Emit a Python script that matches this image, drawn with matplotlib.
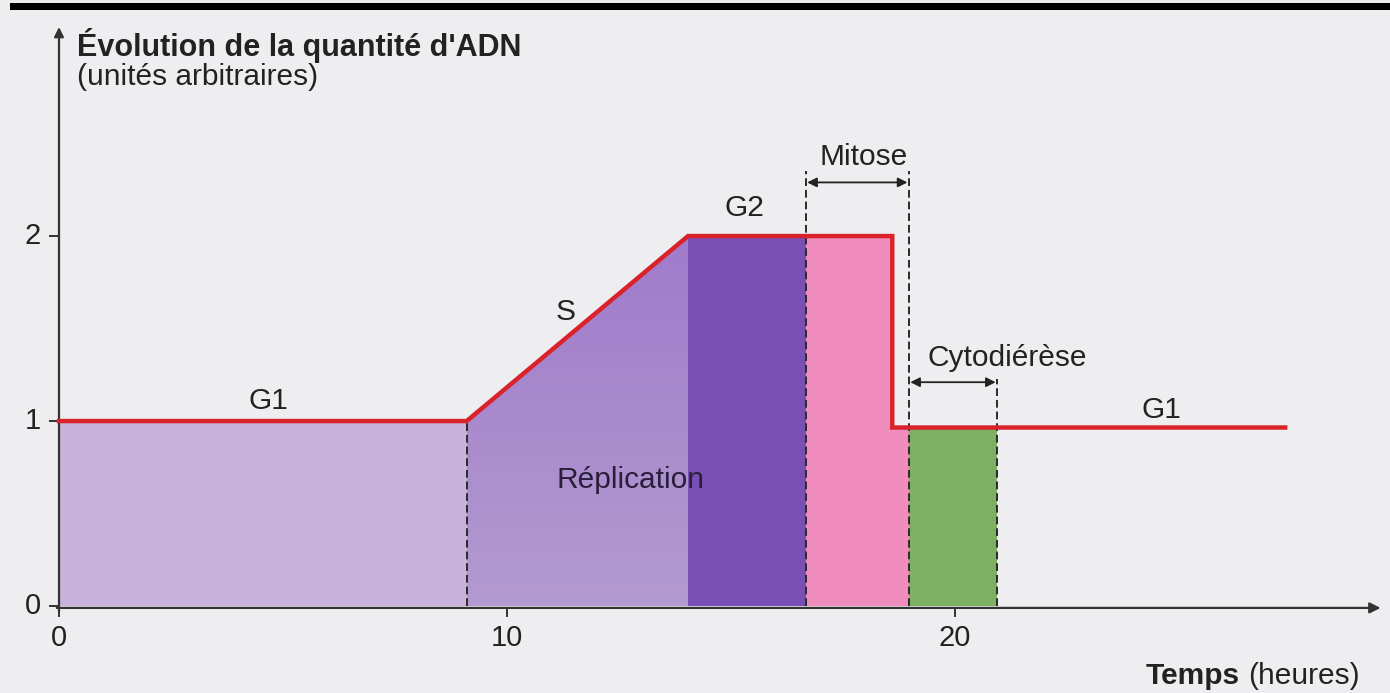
import numpy as np
import matplotlib as mpl
mpl.use('Agg')
from matplotlib import pyplot as plt
from matplotlib.colors import LinearSegmentedColormap

plt.rcParams['font.family'] = ['Liberation Sans', 'DejaVu Sans']

# quantite d'ADN (unites arbitraires) en fonction du temps (heures)
line_t = [0, 9.1, 14.04, 18.6, 18.6, 27.37]
line_adn = [1.0, 1.0, 2.0, 2.0, 0.965, 0.965]

# limites des phases (heures)
phase_names = ['G1', 'S', 'G2', 'Mitose', 'Cytodierese']
phase_start = [0, 9.1, 14.04, 16.67, 18.97]
phase_end = [9.1, 14.04, 16.67, 18.97, 20.94]
phase_colors = ['#c9b2db', None, '#7a4fb5', '#f08cbe', '#7db062']

# pointilles verticaux : position, hauteur
dash_t = [9.1, 16.67, 18.97, 20.94]
dash_top = [1.0, 2.35, 2.35, 1.23]

xticks = [0, 10, 20]
yticks = [0, 1, 2]

bg = '#eeeef1'
ink = '#222222'
red = '#d9222a'

fig = plt.figure(figsize=(13.9, 6.93), dpi=100, facecolor=bg)
ax = fig.add_axes([0, 0, 1, 1])
ax.set_facecolor(bg)
for s in ax.spines.values():
    s.set_visible(False)
ax.set_xticks([])
ax.set_yticks([])


def under(a, b):
    xs = [a]
    ys = [np.interp(a, line_t[:4], line_adn[:4]) if a < 18.6 else line_adn[-1]]
    for x, y in zip(line_t, line_adn):
        if a < x < b:
            xs.append(x)
            ys.append(y)
    xs.append(b)
    ys.append(np.interp(b, line_t[:4], line_adn[:4]) if b <= 18.6 else line_adn[-1])
    return np.array(xs), np.array(ys)


for name, a, b, c in zip(phase_names, phase_start, phase_end, phase_colors):
    xs, ys = under(a, b)
    if c is None:
        # phase S : degrade violet
        poly = ax.fill_between(xs, 0, ys, color='none', lw=0)
        cmap = LinearSegmentedColormap.from_list('s', ['#b39ad0', '#a07bcb'])
        grad = np.linspace(0, 1, 100).reshape(-1, 1)
        im = ax.imshow(grad, extent=[a, b, 0, 2], origin='lower', cmap=cmap,
                       aspect='auto', zorder=1)
        im.set_clip_path(poly.get_paths()[0], transform=ax.transData)
    else:
        ax.fill_between(xs, 0, ys, color=c, lw=0, zorder=1)

# courbe rouge
ax.plot(line_t, line_adn, color=red, lw=3.2, solid_joinstyle='miter', zorder=4)

# pointilles
for t, h in zip(dash_t, dash_top):
    ax.plot([t, t], [0, h], color='#2a2a2a', lw=1.4, ls=(0, (4, 2)), zorder=3)

# fleches de duree
ax.annotate('', xy=(dash_t[1], 2.29), xytext=(dash_t[2], 2.29),
            arrowprops=dict(arrowstyle='<|-|>', color=ink, lw=1.3, mutation_scale=14,
                            shrinkA=1, shrinkB=1))
ax.annotate('', xy=(dash_t[2], 1.21), xytext=(dash_t[3], 1.21),
            arrowprops=dict(arrowstyle='<|-|>', color=ink, lw=1.3, mutation_scale=14,
                            shrinkA=1, shrinkB=1))

# axes
ax.annotate('', xy=(0, 3.13), xytext=(0, -0.03),
            arrowprops=dict(arrowstyle='-|>', color='#333333', lw=1.6, mutation_scale=14,
                            shrinkA=0, shrinkB=0))
ax.annotate('', xy=(29.5, -0.01), xytext=(-0.05, -0.01),
            arrowprops=dict(arrowstyle='-|>', color='#333333', lw=1.6, mutation_scale=16,
                            shrinkA=0, shrinkB=0))
for t in xticks:
    ax.plot([t, t], [-0.01, -0.055], color='#333333', lw=1.4)
    ax.text(t, -0.17, str(t), ha='center', va='center', fontsize=21, color=ink)
for v in yticks:
    ax.plot([-0.2, 0], [v, v], color='#333333', lw=1.4)
    ax.text(-0.58, v, str(v), ha='center', va='center', fontsize=21, color=ink)

# textes
fs = 21.5
ax.text(4.67, 1.11, 'G1', ha='center', va='center', fontsize=fs, color=ink)
ax.text(11.3, 1.59, 'S', ha='center', va='center', fontsize=fs, color=ink)
ax.text(15.3, 2.15, 'G2', ha='center', va='center', fontsize=fs, color=ink)
ax.text(17.95, 2.43, 'Mitose', ha='center', va='center', fontsize=fs, color=ink)
ax.text(21.16, 1.34, 'Cytodiérèse', ha='center', va='center', fontsize=fs, color=ink)
ax.text(24.6, 1.06, 'G1', ha='center', va='center', fontsize=fs, color=ink)
ax.text(12.75, 0.68, 'Réplication', ha='center', va='center', fontsize=fs, color='#2a1f3a', zorder=5)

ax.text(0.4, 3.03, "Évolution de la quantité d'ADN", ha='left', va='center',
        fontsize=22, fontweight='bold', color=ink)
ax.text(0.4, 2.86, '(unités arbitraires)', ha='left', va='center', fontsize=21.5, color=ink)

th = ax.text(29.04, -0.38, '(heures)', ha='right', va='center', fontsize=fs, color=ink)
ax.annotate('Temps', xy=(0, 0.5), xycoords=th, xytext=(-6, 0), textcoords='offset points',
            ha='right', va='center', fontsize=fs, fontweight='bold', color=ink)

# bande noire en haut de la page
ax.axhspan(3.222, 3.262, xmin=0.007, xmax=1, color='black', lw=0)

ax.set_xlim(-1.317, 29.71)
ax.set_ylim(-0.470, 3.276)

fig.savefig('out.png', dpi=100, facecolor=bg)
